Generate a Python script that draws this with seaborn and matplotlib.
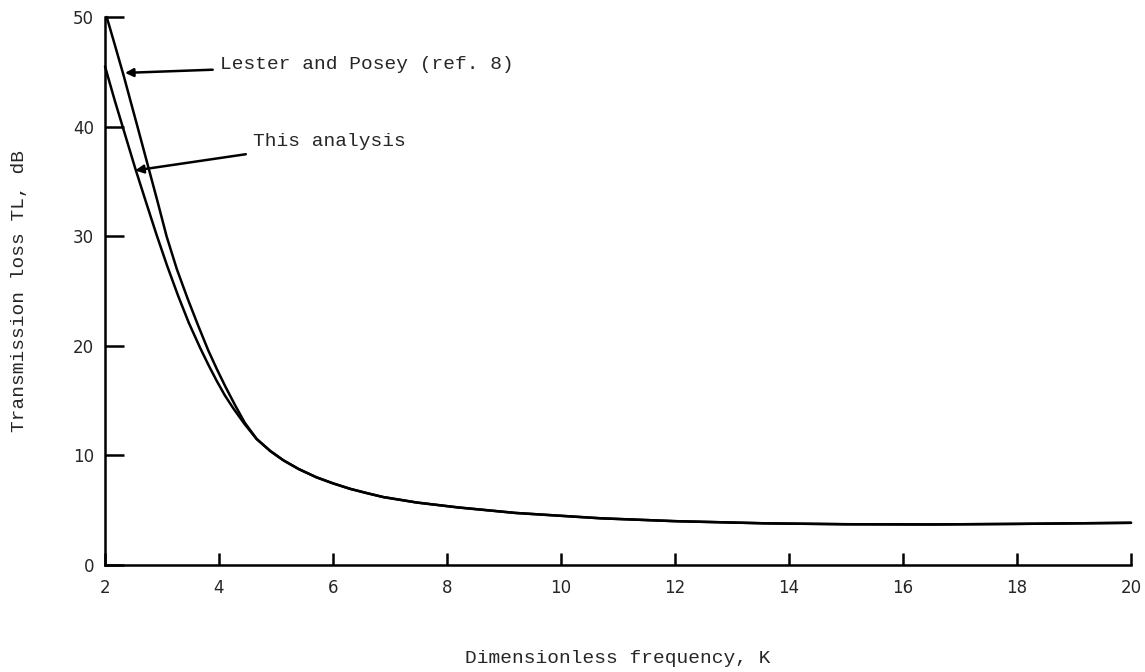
import matplotlib
matplotlib.use("Agg")
import matplotlib.pyplot as plt
import seaborn as sns
import pandas as pd

# ---- data ----
lester_x = [2.03, 2.17, 2.33, 2.46, 2.58, 2.76, 2.92, 3.08, 3.26, 3.45, 3.63, 3.81,
            3.96, 4.11, 4.28, 4.45,
            4.66, 4.9, 5.13, 5.4, 5.71, 6.0, 6.3, 6.6, 6.88, 7.47, 8.2, 9.2,
            10.7, 12.0, 13.6, 15.0, 16.5, 18.0, 20.0]
lester_y = [50.0, 47.5, 44.6, 42.1, 39.8, 36.3, 33.2, 30.0, 27.0, 24.3, 21.9, 19.6,
            17.9, 16.3, 14.6, 13.0,
            11.5, 10.4, 9.55, 8.75, 8.0, 7.45, 6.95, 6.55, 6.2, 5.7, 5.25, 4.75,
            4.26, 4.0, 3.8, 3.72, 3.7, 3.75, 3.85]
this_x = [2.0, 2.17, 2.35, 2.53, 2.72, 2.9, 3.09, 3.28, 3.47, 3.67, 3.82, 3.96,
          4.1, 4.25, 4.45,
          4.66, 4.9, 5.13, 5.4, 5.71, 6.0, 6.3, 6.6, 6.88, 7.47, 8.2, 9.2,
          10.7, 12.0, 13.6, 15.0, 16.5, 18.0, 20.0]
this_y = [45.5, 42.4, 39.3, 36.2, 33.1, 30.2, 27.3, 24.6, 22.1, 19.8, 18.2, 16.8,
          15.5, 14.3, 12.85,
          11.5, 10.4, 9.55, 8.75, 8.0, 7.45, 6.95, 6.55, 6.2, 5.7, 5.25, 4.75,
          4.26, 4.0, 3.8, 3.72, 3.7, 3.75, 3.85]

x_ticks = [2, 4, 6, 8, 10, 12, 14, 16, 18, 20]
y_ticks = [0, 10, 20, 30, 40, 50]
series_names = ["Lester and Posey (ref. 8)", "This analysis"]
x_label = "Dimensionless frequency, K"
y_label = "Transmission loss TL, dB"

df = pd.concat([
    pd.DataFrame({"K": lester_x, "TL": lester_y, "series": series_names[0]}),
    pd.DataFrame({"K": this_x, "TL": this_y, "series": series_names[1]}),
])

sns.set_style("ticks")
plt.rcParams["font.family"] = ["DejaVu Sans"]
mono = "Liberation Mono"

fig = plt.figure(figsize=(11.45, 6.72), dpi=100)
ax = fig.add_axes([105/1145, 1 - 565/672, (1131-105)/1145, (565-17)/672])

sns.lineplot(data=df, x="K", y="TL", hue="series", palette=["black", "black"],
             lw=1.8, ax=ax, legend=False, sort=False, estimator=None)
for ln in ax.get_lines():
    ln.set_clip_on(False)
    ln.set_solid_joinstyle("round")

ax.set_xlim(2, 20)
ax.set_ylim(0, 50)
ax.set_xticks(x_ticks)
ax.set_yticks(y_ticks)
ax.set_xticklabels([str(t) for t in x_ticks], fontsize=12)
ax.set_yticklabels([str(t) for t in y_ticks], fontsize=12)
ax.tick_params(axis="y", direction="in", length=14, width=1.8, pad=8, color="black")
ax.tick_params(axis="x", direction="in", length=9, width=1.8, pad=10, color="black")
sns.despine(ax=ax)
for s in ["left", "bottom"]:
    ax.spines[s].set_linewidth(1.8)
    ax.spines[s].set_color("black")

ax.set_xlabel(x_label, fontfamily=mono, fontsize=14, labelpad=38)
ax.set_ylabel(y_label, fontfamily=mono, fontsize=14, labelpad=32)

ax.annotate(series_names[0], xy=(2.35, 44.9), xytext=(4.02, 45.7),
            fontfamily=mono, fontsize=14, ha="left", va="center",
            arrowprops=dict(arrowstyle="-|>", color="black", lw=1.8,
                            shrinkA=3, shrinkB=0, mutation_scale=12))
ax.annotate(series_names[1], xy=(2.53, 36.0), xytext=(4.6, 38.6),
            fontfamily=mono, fontsize=14, ha="left", va="center",
            arrowprops=dict(arrowstyle="-|>", color="black", lw=1.8,
                            shrinkA=3, shrinkB=0, mutation_scale=12))

fig.savefig("out.png", dpi=100, facecolor="white")
